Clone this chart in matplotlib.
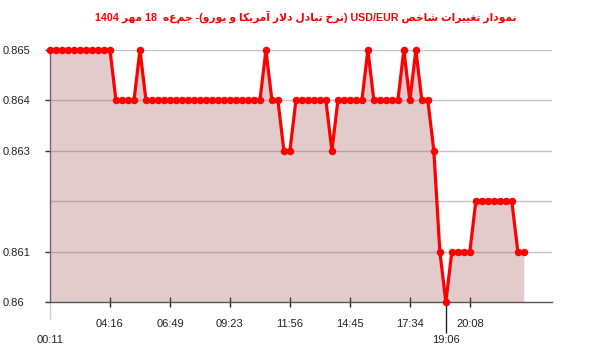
import re
import unicodedata
import matplotlib
matplotlib.use("Agg")
import matplotlib.pyplot as plt

# ---------------- data ----------------
values = [
    0.865, 0.865, 0.865, 0.865, 0.865, 0.865, 0.865, 0.865, 0.865, 0.865,
    0.865, 0.864, 0.864, 0.864, 0.864, 0.865, 0.864, 0.864, 0.864, 0.864,
    0.864, 0.864, 0.864, 0.864, 0.864, 0.864, 0.864, 0.864, 0.864, 0.864,
    0.864, 0.864, 0.864, 0.864, 0.864, 0.864, 0.865, 0.864, 0.864, 0.863,
    0.863, 0.864, 0.864, 0.864, 0.864, 0.864, 0.864, 0.863, 0.864, 0.864,
    0.864, 0.864, 0.864, 0.865, 0.864, 0.864, 0.864, 0.864, 0.864, 0.865,
    0.864, 0.865, 0.864, 0.864, 0.863, 0.861, 0.860, 0.861, 0.861, 0.861,
    0.861, 0.862, 0.862, 0.862, 0.862, 0.862, 0.862, 0.862, 0.861, 0.861,
]
x_positions = list(range(len(values)))

major_tick_idx = [10, 20, 30, 40, 50, 60, 70]
major_tick_lbl = ['04:16', '06:49', '09:23', '11:56', '14:45', '17:34', '20:08']
minor_tick_idx = [0, 66]
minor_tick_lbl = ['00:11', '19:06']

y_ticks = [0.86, 0.861, 0.863, 0.864, 0.865]
y_tick_lbl = ['0.86', '0.861', '0.863', '0.864', '0.865']
grid_levels = [0.861, 0.862, 0.863, 0.864, 0.865]

title_text = "نمودار تغییرات شاخص USD/EUR (نرخ تبادل دلار آمریکا و یورو)- جمعه  18 مهر 1404"

# ---------------- minimal Persian shaping + bidi ----------------
FORMS = {
    '\u0627': ('\uFE8D', '\uFE8E', None, None),
    '\u0622': ('\uFE81', '\uFE82', None, None),
    '\u062F': ('\uFEA9', '\uFEAA', None, None),
    '\u0630': ('\uFEAB', '\uFEAC', None, None),
    '\u0631': ('\uFEAD', '\uFEAE', None, None),
    '\u0632': ('\uFEAF', '\uFEB0', None, None),
    '\u0648': ('\uFEED', '\uFEEE', None, None),
    '\u0628': ('\uFE8F', '\uFE90', '\uFE91', '\uFE92'),
    '\u062A': ('\uFE95', '\uFE96', '\uFE97', '\uFE98'),
    '\u062C': ('\uFE9D', '\uFE9E', '\uFE9F', '\uFEA0'),
    '\u062E': ('\uFEA5', '\uFEA6', '\uFEA7', '\uFEA8'),
    '\u0634': ('\uFEB5', '\uFEB6', '\uFEB7', '\uFEB8'),
    '\u0635': ('\uFEB9', '\uFEBA', '\uFEBB', '\uFEBC'),
    '\u063A': ('\uFECD', '\uFECE', '\uFECF', '\uFED0'),
    '\u0644': ('\uFEDD', '\uFEDE', '\uFEDF', '\uFEE0'),
    '\u0645': ('\uFEE1', '\uFEE2', '\uFEE3', '\uFEE4'),
    '\u0646': ('\uFEE5', '\uFEE6', '\uFEE7', '\uFEE8'),
    '\u0647': ('\uFEE9', '\uFEEA', '\uFEEB', '\uFEEC'),
    '\u06CC': ('\uFBFC', '\uFBFD', '\uFBFE', '\uFBFF'),
    '\u06A9': ('\uFB8E', '\uFB8F', '\uFB90', '\uFB91'),
}
LAM_ALEF = {'\u0627': ('\uFEFB', '\uFEFC'), '\u0622': ('\uFEF5', '\uFEF6')}


def dual(c):
    return c in FORMS and FORMS[c][2] is not None


def shape(s):
    s = unicodedata.normalize('NFC', s).replace('\u064A', '\u06CC').replace('\u0643', '\u06A9')
    out = []
    i = 0
    n = len(s)
    while i < n:
        c = s[i]
        prev_j = i > 0 and dual(s[i - 1])
        if c == '\u0644' and i + 1 < n and s[i + 1] in LAM_ALEF:
            out.append(LAM_ALEF[s[i + 1]][1 if prev_j else 0])
            i += 2
            continue
        if c in FORMS:
            next_j = i + 1 < n and s[i + 1] in FORMS
            iso, fin, ini, med = FORMS[c]
            if ini is None:
                out.append(fin if prev_j else iso)
            else:
                if prev_j and next_j:
                    out.append(med)
                elif prev_j:
                    out.append(fin)
                elif next_j:
                    out.append(ini)
                else:
                    out.append(iso)
        else:
            out.append(c)
        i += 1
    return ''.join(out)


def visual(s):
    shaped = shape(s)
    toks = re.findall(r'[A-Za-z0-9./:]+|.', shaped)
    mirror = {'(': ')', ')': '('}
    toks = [mirror.get(t, t) for t in reversed(toks)]
    return ''.join(toks)


# ---------------- figure ----------------
fig = plt.figure(figsize=(6, 3.52), dpi=100)
W, H = 600, 352
left, right, top, bottom = 50, 552, 50, 302
ax = fig.add_axes([left / W, (H - bottom) / H, (right - left) / W, (bottom - top) / H])

ax.set_xlim(0, 83.7)
ax.set_ylim(0.86, 0.865)

for g in grid_levels:
    ax.axhline(g, color='#c2c2c2', lw=1.0, zorder=1)

ax.fill_between(x_positions, values, 0.86, color=(165 / 255, 85 / 255, 85 / 255),
                alpha=0.3, lw=0, zorder=2)
ax.plot(x_positions, values, color='#ff0000', lw=2.3, marker='o', markersize=5.4,
        markeredgewidth=0, zorder=4, clip_on=False, solid_joinstyle='round')

for s in ('top', 'right'):
    ax.spines[s].set_visible(False)
ax.spines['left'].set_color('#6a6a6a')
ax.spines['bottom'].set_color('#555555')
ax.spines['left'].set_linewidth(1.0)
ax.spines['bottom'].set_linewidth(1.0)

# y ticks
ax.set_yticks(y_ticks, y_tick_lbl)
ax.tick_params(axis='y', direction='out', length=3.6, width=1, color='#333333',
               pad=30.5, labelsize=8, labelcolor='#222222')
for lab in ax.get_yticklabels():
    lab.set_horizontalalignment('left')
    lab.set_fontfamily('Liberation Sans')

# x ticks
ax.set_xticks(major_tick_idx, major_tick_lbl)
ax.set_xticks(minor_tick_idx, minor_tick_lbl, minor=True)
ax.tick_params(axis='x', which='major', direction='inout', length=7.2, width=1,
               color='#222222', pad=8.5, labelsize=8, labelcolor='#222222')
ax.tick_params(axis='x', which='minor', direction='out', length=22, width=1,
               color='#222222', pad=1.5, labelsize=8, labelcolor='#222222')
for lab in ax.get_xticklabels(which='both'):
    lab.set_fontfamily('Liberation Sans')
mt = ax.xaxis.get_minor_ticks()
mt[0].tick1line.set_markeredgecolor('#d0d0d0')
mt[0].tick1line.set_color('#d0d0d0')
mt[0].tick1line.set_markersize(12)

fig.text(0.51, 1 - 17 / H, visual(title_text), color='#ff0000', fontsize=7.7,
         fontweight='bold', family=['Liberation Sans', 'DejaVu Sans'],
         ha='center', va='center')

fig.savefig('out.png', dpi=100)
